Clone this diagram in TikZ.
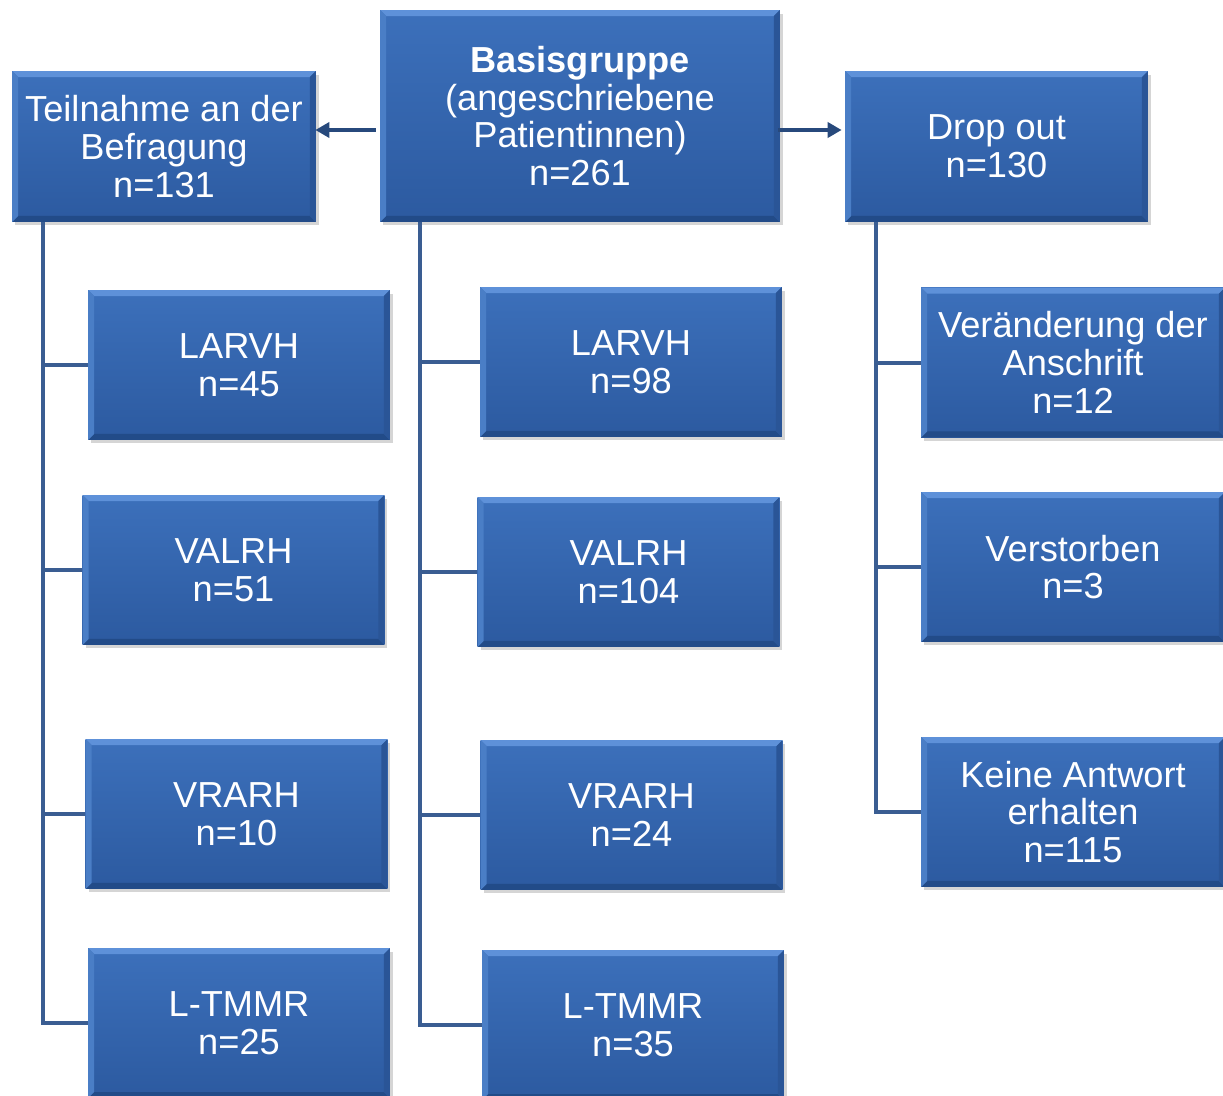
\documentclass[tikz,border=0pt]{standalone}
\usepackage{fontspec}
\setmainfont{Liberation Sans}
\usetikzlibrary{arrows.meta,shadows}
\definecolor{boxtop}{HTML}{3C70BB}
\definecolor{boxbot}{HTML}{2C5AA0}
\definecolor{bevtop}{HTML}{5E91D9}
\definecolor{bevleft}{HTML}{4A7EC6}
\definecolor{bevright}{HTML}{2A5597}
\definecolor{bevbot}{HTML}{224B88}
\definecolor{conncol}{HTML}{3A5D92}
\definecolor{arrcol}{HTML}{27497C}
\tikzset{
  fbox/.style={rectangle, minimum width=6.04cm, minimum height=3.0cm, inner sep=0pt,
    top color=boxtop, bottom color=boxbot,
    text=white, align=center, font=\fontsize{20.6}{21.5}\selectfont,
    drop shadow={shadow xshift=0.06cm, shadow yshift=-0.07cm, opacity=0.3, fill=black!55},
    path picture={
      \fill[bevtop] (path picture bounding box.north west) -- (path picture bounding box.north east)
        -- ([shift={(-6,6)}]path picture bounding box.north east) -- ([shift={(6,6)}]path picture bounding box.north west) -- cycle;
      \fill[bevbot] (path picture bounding box.south west) -- (path picture bounding box.south east)
        -- ([shift={(-6,-6)}]path picture bounding box.south east) -- ([shift={(6,-6)}]path picture bounding box.south west) -- cycle;
      \fill[bevleft] (path picture bounding box.north west) -- ([shift={(6,6)}]path picture bounding box.north west)
        -- ([shift={(6,-6)}]path picture bounding box.south west) -- (path picture bounding box.south west) -- cycle;
      \fill[bevright] (path picture bounding box.north east) -- ([shift={(-6,6)}]path picture bounding box.north east)
        -- ([shift={(-6,-6)}]path picture bounding box.south east) -- (path picture bounding box.south east) -- cycle;
    }},
  conn/.style={draw=conncol, line width=0.08cm},
  arr/.style={draw=arrcol, line width=0.08cm, -{Triangle[length=0.28cm,width=0.3cm]}}
}
\begin{document}
\begin{tikzpicture}[x=0.02cm,y=-0.02cm]
\useasboundingbox (0,0) rectangle (1223,1095);
\clip (0,0) rectangle (1223,1095);
% top row
\node[fbox, minimum width=8.0cm, minimum height=4.24cm] (B) at (580,116) {\textbf{Basisgruppe}\\(angeschriebene\\Patientinnen)\\n=261};
\node[fbox, minimum width=6.08cm, minimum height=3.02cm] (T) at (164,146.5) {Teilnahme an der\\Befragung\\n=131};
\node[fbox, minimum width=6.06cm, minimum height=3.02cm] (D) at (996.5,146.5) {Drop out\\n=130};
% left column
\node[fbox] (L1) at (239,365) {LARVH\\n=45};
\node[fbox] (L2) at (233.5,570) {VALRH\\n=51};
\node[fbox] (L3) at (236.5,814) {VRARH\\n=10};
\node[fbox] (L4) at (239,1023) {L-TMMR\\n=25};
% middle column
\node[fbox] (M1) at (631,362) {LARVH\\n=98};
\node[fbox] (M2) at (628.5,572) {VALRH\\n=104};
\node[fbox] (M3) at (631.5,815) {VRARH\\n=24};
\node[fbox] (M4) at (633,1025) {L-TMMR\\n=35};
% right column
\node[fbox, minimum width=6.08cm] (R1) at (1073,362.5) {Veränderung der\\Anschrift\\n=12};
\node[fbox, minimum width=6.08cm] (R2) at (1073,567) {Verstorben\\n=3};
\node[fbox, minimum width=6.08cm] (R3) at (1073,812) {Keine Antwort\\erhalten\\n=115};
% trunks
\coordinate (tl) at (43,222);
\coordinate (tm) at (420,222);
\coordinate (tr) at (876,222);
\draw[conn] (tl) |- (L1.west);
\draw[conn] (tl) |- (L2.west);
\draw[conn] (tl) |- (L3.west);
\draw[conn] (tl) |- (L4.west);
\draw[conn] (tm) |- (M1.west);
\draw[conn] (tm) |- (M2.west);
\draw[conn] (tm) |- (M3.west);
\draw[conn] (tm) |- (M4.west);
\draw[conn] (tr) |- (R1.west);
\draw[conn] (tr) |- (R2.west);
\draw[conn] (tr) |- (R3.west);
% arrows
\draw[arr] ([shift={(-4,14)}]B.west) -- ([shift={(-1,-16.5)}]T.east);
\draw[arr] ([shift={(-2,14)}]B.east) -- ([shift={(-3,-16.5)}]D.west);
\end{tikzpicture}
\end{document}
